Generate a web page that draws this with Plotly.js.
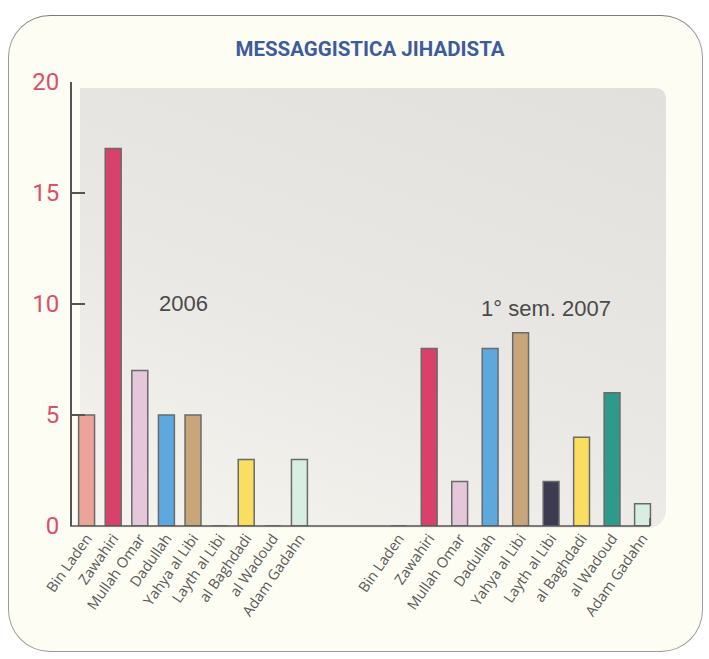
<!DOCTYPE html>
<html>
<head>
<meta charset="utf-8">
<script src="https://cdn.plot.ly/plotly-3.0.1.min.js"></script>
<style>
  html, body { margin: 0; padding: 0; background: #ffffff; }
  #wrap { position: relative; width: 709px; height: 659px; overflow: hidden; }
  #frame { position: absolute; left: 8px; top: 15px; width: 695px; height: 637px;
           border: 1.2px solid #9a9a9a; border-top-color: #7c7c7c; border-radius: 42px; background: #FDFDF4; box-sizing: border-box; }
  #panel { position: absolute; left: 80px; top: 88px; width: 586px; height: 440px;
           border-radius: 0 10px 18px 0;
           background: linear-gradient(20deg, #F5F4EF 0%, #EAE8E4 45%, #E2E0DD 100%); }
  #chart { position: absolute; left: 0; top: 0; width: 709px; height: 659px; }
</style>
</head>
<body>
<div id="wrap">
  <div id="frame"></div>
  <div id="panel"></div>
  <div id="chart"></div>
</div>
<script>
// ---- data ----
const names = ["Bin Laden", "Zawahiri", "Mullah Omar", "Dadullah", "Yahya al Libi",
               "Layth al Libi", "al Baghdadi", "al Wadoud", "Adam Gadahn"];
const values2006 = [5, 17, 7, 5, 5, 0, 3, 0, 3];
const values2007 = [0, 8, 2, 8, 8.7, 2, 4, 6, 1];
const barColors = ["#EBA497", "#D8426A", "#E6C6DA", "#5EA8E0", "#C9A57A",
                   "#3C3B52", "#F9DE60", "#2E9A8C", "#D9EEE2"];
const yTicks = [0, 5, 10, 15, 20];
const groupLabels = ["2006", "1° sem. 2007"];
const chartTitle = "MESSAGGISTICA JIHADISTA";

const outline = { color: "#6a6a6a", width: 1.5 };

const trace2006 = {
  type: "bar", x: names, y: values2006, xaxis: "x", yaxis: "y",
  width: 0.6,
  marker: { color: barColors, line: outline },
  hoverinfo: "x+y", showlegend: false
};
const trace2007 = {
  type: "bar", x: names, y: values2007, xaxis: "x2", yaxis: "y",
  width: 0.52,
  marker: { color: barColors, line: outline },
  hoverinfo: "x+y", showlegend: false
};

const tickFontX = { family: "'Open Sans', 'Liberation Sans', Arial, sans-serif", size: 14.5, color: "#5a5a5a" };

const layout = {
  width: 709, height: 659,
  margin: { l: 70, r: 19, t: 82, b: 133, pad: 0 },
  paper_bgcolor: "rgba(0,0,0,0)",
  plot_bgcolor: "rgba(0,0,0,0)",
  title: {
    text: "<b>" + chartTitle + "</b>",
    font: { family: "Roboto, 'Open Sans', sans-serif", size: 20.5, color: "#3C5C9C" },
    x: 370 / 709, xanchor: "center", xref: "container",
    y: 1 - 49 / 659, yanchor: "middle", yref: "container"
  },
  xaxis: {
    domain: [0.0053, 0.3915], anchor: "y", type: "category",
    range: [-0.5, 8.5], showline: false, showgrid: false, zeroline: false,
    ticks: "", tickangle: -55, tickfont: tickFontX, fixedrange: true
  },
  xaxis2: {
    domain: [0.5056, 0.948], anchor: "y", type: "category",
    range: [-0.5, 8.5], showline: false, showgrid: false, zeroline: false,
    ticks: "", tickangle: -55, tickfont: tickFontX, fixedrange: true
  },
  yaxis: {
    range: [0, 20], anchor: "free", position: 0,
    tickvals: yTicks, ticktext: yTicks.map(String),
    ticks: "inside", ticklen: 13, tickwidth: 1.5, tickcolor: "#555555",
    showline: true, linecolor: "#555555", linewidth: 1.5,
    showgrid: false, zeroline: false,
    tickfont: { family: "Roboto, 'Liberation Sans', Arial, sans-serif", size: 24, color: "#D9506A" },
    ticklabelstandoff: 6, fixedrange: true
  },
  shapes: [
    { type: "line", xref: "paper", yref: "paper", x0: 0, x1: (650 - 70) / 620, y0: 0, y1: 0,
      line: { color: "#555555", width: 1.5 } },
    { type: "line", xref: "paper", yref: "paper", x0: (650 - 70) / 620, x1: (650 - 70) / 620, y0: 0, y1: 8 / 444,
      line: { color: "#555555", width: 1.5 } }
  ],
  annotations: [
    { text: groupLabels[0], xref: "paper", yref: "paper", x: (183 - 70) / 620, y: (526 - 303.5) / 444,
      showarrow: false, xanchor: "center", yanchor: "middle",
      font: { family: "'Liberation Sans', Arial, sans-serif", size: 22, color: "#4a4a4a" } },
    { text: groupLabels[1], xref: "paper", yref: "paper", x: (546 - 70) / 620, y: (526 - 308) / 444,
      showarrow: false, xanchor: "center", yanchor: "middle",
      font: { family: "'Liberation Sans', Arial, sans-serif", size: 22, color: "#4a4a4a" } }
  ],
  bargap: 0.4
};

Plotly.newPlot("chart", [trace2006, trace2007], layout, { displayModeBar: false, staticPlot: true });
</script>
</body>
</html>
